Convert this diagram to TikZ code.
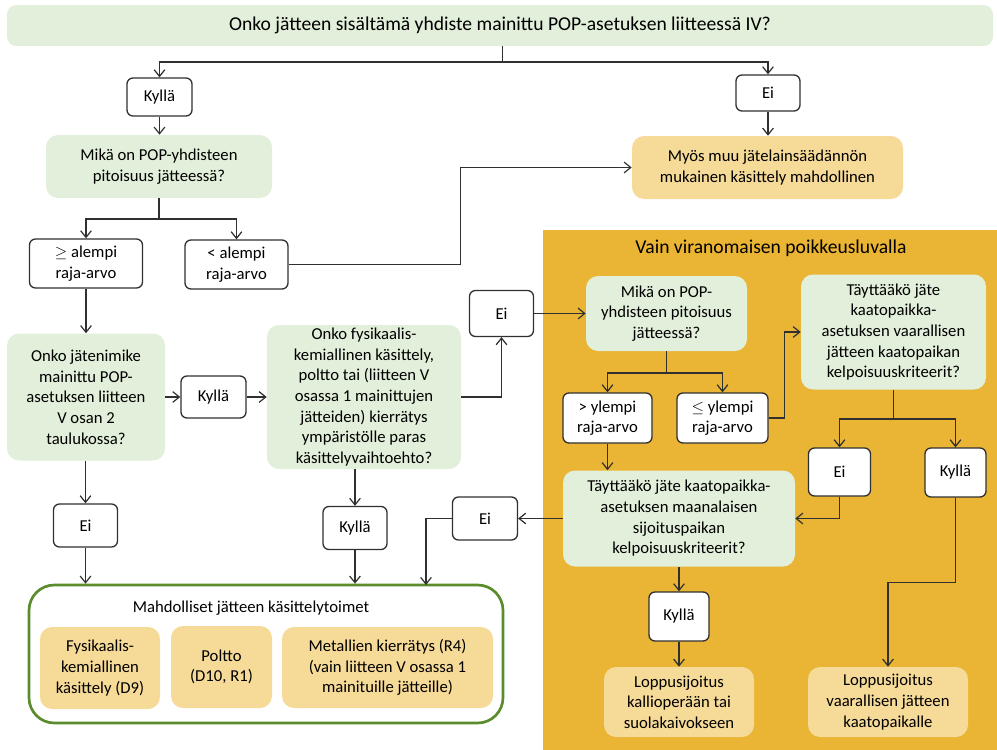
\documentclass[tikz,border=0pt]{standalone}
\usepackage{fontspec}
\setmainfont{Carlito}
\usetikzlibrary{arrows.meta,calc}
\definecolor{qgreen}{HTML}{E2EFDA}
\definecolor{ryellow}{HTML}{F6DA98}
\definecolor{obg}{HTML}{EAB434}
\definecolor{gborder}{HTML}{5B8C2C}
\definecolor{linec}{HTML}{303030}
\begin{document}
\begin{tikzpicture}[x=0.75pt,y=-0.75pt,
  font=\fontsize{12.5}{15.5}\selectfont,
  sz/.style 2 args={minimum width=#1*0.75pt,minimum height=#2*0.75pt},
  qbox/.style={fill=qgreen,rounded corners=9pt,align=center,inner sep=0pt},
  ansbox/.style={draw=linec,line width=1pt,fill=white,rounded corners=4.5pt,align=center,inner sep=0pt},
  resbox/.style={fill=ryellow,rounded corners=9pt,align=center,inner sep=0pt},
  ln/.style={draw=linec,line width=0.9pt},
  arr/.style={draw=linec,line width=0.9pt,-{Straight Barb[length=5pt,width=8pt]}},
  bigfont/.style={font=\fontsize{14.7}{17}\selectfont}
]
\useasboundingbox (0,0) rectangle (997,750);
\fill[obg] (543,230) rectangle (997,750);

% top
\node[qbox,sz={986}{41},rounded corners=7pt,bigfont] (title) at (500,25.5)
  {Onko jätteen sisältämä yhdiste mainittu POP-asetuksen liitteessä IV?};
\node[ansbox,sz={65}{38}] (ky1) at (159.5,97) {Kyllä};
\node[ansbox,sz={64}{36}] (ei1) at (768,93) {Ei};
\node[qbox,sz={226}{63}] (mika1) at (159,166.5) {Mikä on POP-yhdisteen\\pitoisuus jätteessä?};
\node[resbox,sz={271}{63}] (myos) at (767.5,167.5) {Myös muu jätelainsäädännön\\mukainen käsittely mahdollinen};
\node[ansbox,sz={113}{49}] (ge) at (86,263.5) {$\geq$ alempi\\raja-arvo};
\node[ansbox,sz={103}{49}] (lt) at (236.5,264.5) {< alempi\\raja-arvo};

% middle left
\node[qbox,sz={158}{127}] (onko1) at (86,397) {Onko jätenimike\\mainittu POP-\\asetuksen liitteen\\V osan 2\\taulukossa?};
\node[ansbox,sz={65}{42}] (ky2) at (213.5,397) {Kyllä};
\node[qbox,sz={194}{144}] (onko2) at (364,397) {Onko fysikaalis-\\kemiallinen käsittely,\\poltto tai (liitteen V\\osassa 1 mainittujen\\jätteiden) kierrätys\\ympäristölle paras\\käsittelyvaihtoehto?};
\node[ansbox,sz={64}{46}] (ei2) at (501.5,313.5) {Ei};
\node[ansbox,sz={64}{43}] (ei3) at (85.5,525.5) {Ei};
\node[ansbox,sz={64}{43}] (ky3) at (355,528) {Kyllä};
\node[ansbox,sz={65}{43}] (ei4) at (485,518.5) {Ei};

% green group
\node[draw=gborder,line width=2pt,rounded corners=19pt,fill=white,sz={474}{138}] (green) at (266,654) {};
\node (gtitle) at (251,608) {Mahdolliset jätteen käsittelytoimet};
\node[resbox,sz={120}{82}] (fys) at (100,668) {Fysikaalis-\\kemiallinen\\käsittely (D9)};
\node[resbox,sz={101}{82}] (poltto) at (221.5,667) {Poltto\\(D10, R1)};
\node[resbox,sz={211}{81}] (met) at (387.5,667.5) {Metallien kierrätys (R4)\\(vain liitteen V osassa 1\\mainituille jätteille)};

% orange region
\node[bigfont] (otitle) at (771,248) {Vain viranomaisen poikkeusluvalla};
\node[qbox,sz={161}{75}] (mika2) at (666.5,313.5) {Mikä on POP-\\yhdisteen pitoisuus\\jätteessä?};
\node[qbox,sz={185}{115}] (vaar) at (893.5,332) {Täyttääkö jäte\\kaatopaikka-\\asetuksen vaarallisen\\jätteen kaatopaikan\\kelpoisuuskriteerit?};
\node[ansbox,sz={89}{50}] (gt) at (607.5,418) {> ylempi\\raja-arvo};
\node[ansbox,sz={91}{50}] (le) at (722.5,418) {$\leq$ ylempi\\raja-arvo};
\node[qbox,sz={232}{96}] (maan) at (679,518.5) {Täyttääkö jäte kaatopaikka-\\asetuksen maanalaisen\\sijoituspaikan\\kelpoisuuskriteerit?};
\node[ansbox,sz={62}{48}] (ei5) at (839.5,472) {Ei};
\node[ansbox,sz={61}{49}] (ky5) at (955.5,472.5) {Kyllä};
\node[ansbox,sz={60}{49}] (ky6) at (679,616.5) {Kyllä};
\node[resbox,sz={150}{70}] (lop1) at (679,702) {Loppusijoitus\\kallioperään tai\\suolakaivokseen};
\node[resbox,sz={160}{70}] (lop2) at (888,702) {Loppusijoitus\\vaarallisen jätteen\\kaatopaikalle};

% connectors
\coordinate (j1) at (502.5,62);
\draw[ln] (title.south -| j1) -- (j1);
\draw[arr] (j1) -| (ky1.north);
\draw[arr] (j1) -| (ei1.north);
\draw[arr] (ky1.south) -- (ky1.south |- mika1.north);
\draw[arr] (ei1.south) -- (ei1.south |- myos.north);
\coordinate (j2) at (159,219);
\draw[ln] (mika1.south) -- (j2);
\draw[arr] (j2) -| (ge.north);
\draw[arr] (j2) -| (lt.north);
\draw[arr] (lt.east) -- ++(172,0) |- (myos.west);
\draw[arr] (ge.south) -- (ge.south |- onko1.north);
\draw[arr] (onko1.east) -- (ky2.west);
\draw[arr] (ky2.east) -- (onko2.west);
\draw[arr] (onko2.east) -| (ei2.south);
\draw[arr] (ei2.east) -- (mika2.west);
\draw[arr] (onko1.south -| ei3.north) -- (ei3.north);
\draw[arr] (ei3.south) -- (ei3.south |- green.north);
\draw[arr] (onko2.south -| ky3.north) -- (ky3.north);
\draw[arr] (ky3.south) -- (ky3.south |- green.north);
\draw[arr] (maan.west) -- (ei4.east);
\coordinate (g3) at (426,585);
\draw[arr] (ei4.west) -| (g3);

\coordinate (j3) at (666.5,373);
\draw[ln] (mika2.south) -- (j3);
\draw[arr] (j3) -| (gt.north);
\draw[arr] (j3) -| (le.north);
\draw[arr] (le.east) -- ++(16,0) |- (vaar.west);
\draw[arr] (gt.south) -- (gt.south |- maan.north);
\coordinate (j4) at (893.5,419);
\draw[ln] (vaar.south) -- (j4);
\draw[arr] (j4) -| (ei5.north);
\draw[arr] (j4) -| (ky5.north);
\draw[arr] (ei5.south) |- (maan.east);
\draw[arr] (maan.south) -- (ky6.north);
\draw[arr] (ky6.south) -- (lop1.north);
\draw[arr] (ky5.south) -- ++(0,85) -| (lop2.north);
\end{tikzpicture}
\end{document}
